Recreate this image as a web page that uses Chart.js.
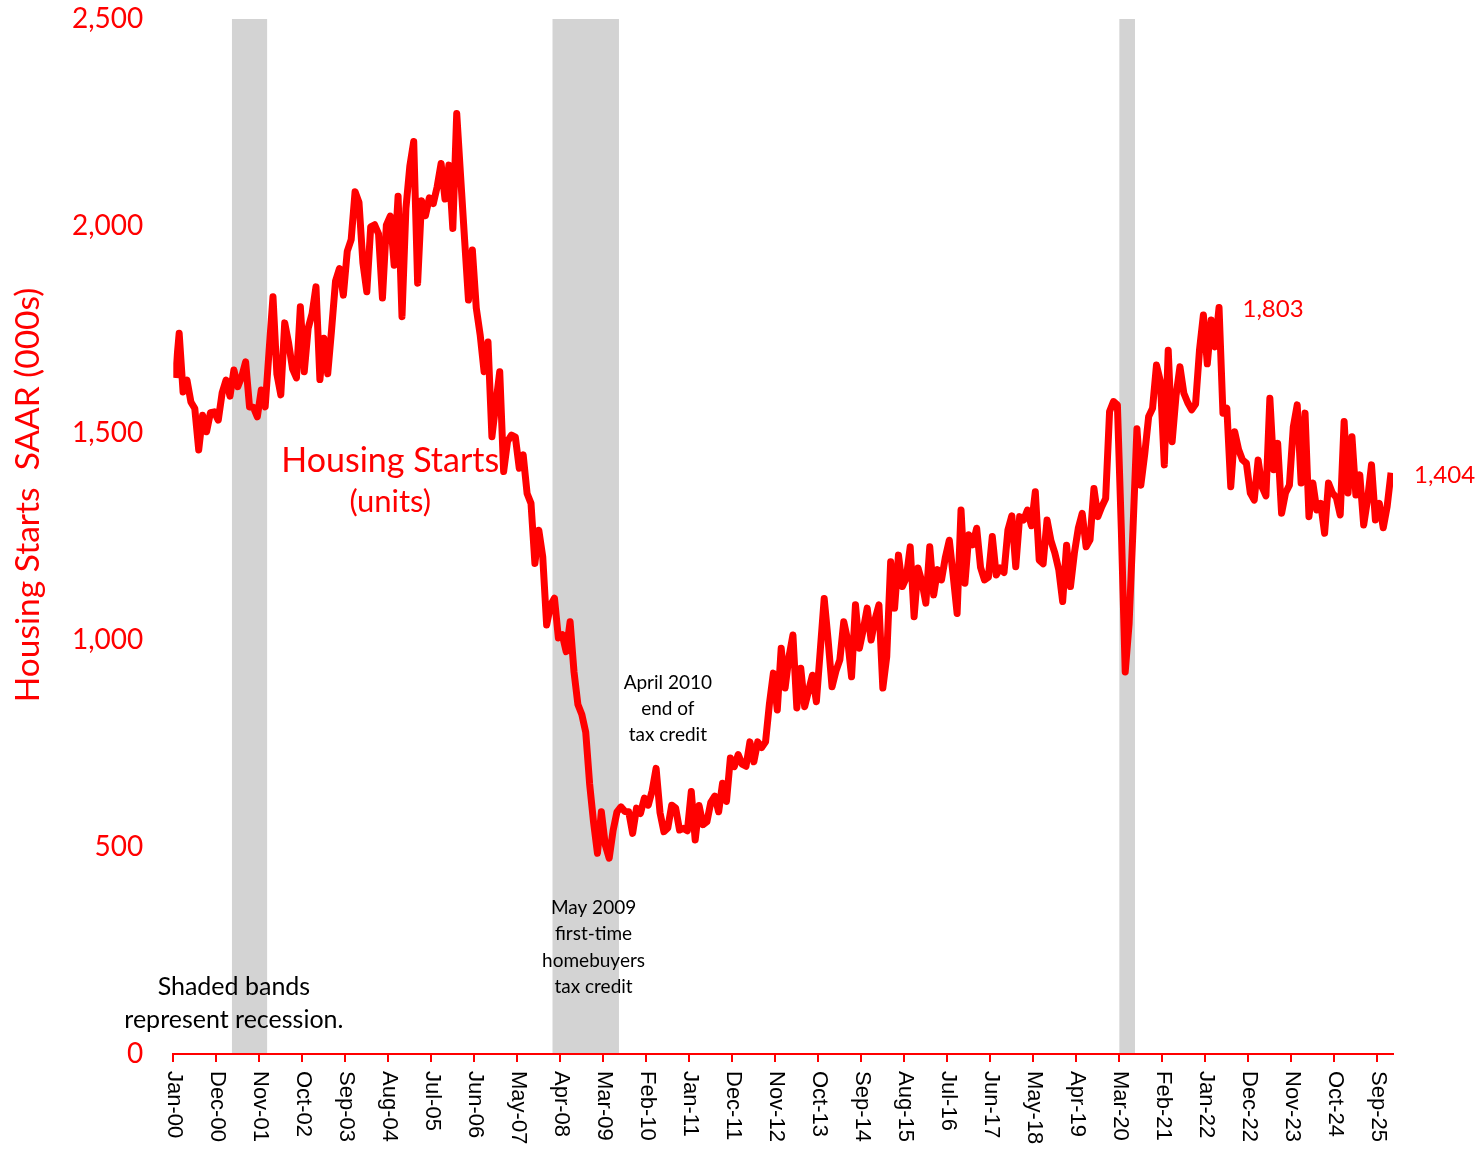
<!DOCTYPE html>
<html>
<head>
<meta charset="utf-8">
<script src="https://cdn.jsdelivr.net/npm/chart.js@4.4.1/dist/chart.umd.min.js"></script>
<style>
  html, body { margin: 0; padding: 0; background: #ffffff; }
  #wrap { width: 1476px; height: 1154px; position: relative; }
</style>
</head>
<body>
<div id="wrap"><canvas id="c" width="1476" height="1154"></canvas></div>
<script>
// ---------------- DATA ----------------
const monthNames = ['Jan','Feb','Mar','Apr','May','Jun','Jul','Aug','Sep','Oct','Nov','Dec'];
const yearCodes = ['00','01','02','03','04','05','06','07','08','09','10','11','12',
                   '13','14','15','16','17','18','19','20','21','22','23','24','25'];
const categories = yearCodes.flatMap(y => monthNames.map(m => m + '-' + y));

// Housing starts, SAAR (000s), Jan-00 .. Dec-25
const housingStarts = [
  1633,1741,1599,1628,1575,1559,1459,1543,1503,1549,1551,1531, // 2000
  1597,1628,1589,1652,1612,1636,1672,1563,1562,1539,1604,1563, // 2001
  1698,1829,1642,1592,1766,1717,1655,1633,1805,1648,1753,1788, // 2002
  1853,1629,1729,1643,1751,1867,1897,1833,1939,1967,2083,2057, // 2003
  1911,1841,1998,2003,1981,1826,2002,2024,1905,2072,1781,2042, // 2004
  2144,2204,1862,2061,2025,2068,2054,2095,2151,2065,2147,1994, // 2005
  2272,2119,1969,1821,1942,1802,1737,1648,1720,1491,1570,1648, // 2006
  1407,1480,1495,1490,1415,1447,1354,1330,1185,1265,1201,1036, // 2007
  1084,1101,1005,1013, 972,1044, 923, 844, 820, 777, 652, 560, // 2008
   485, 585, 505, 473, 540, 585, 597, 586, 585, 533, 594, 581, // 2009
   618, 601, 636, 690, 583, 537, 546, 601, 594, 541, 545, 539, // 2010
   634, 517, 600, 554, 561, 608, 623, 585, 654, 610, 715, 694, // 2011
   723, 700, 695, 754, 706, 754, 740, 754, 847, 920, 831, 980, // 2012
   884, 960,1012, 836, 932, 839, 877, 915, 851, 975,1100,1000, // 2013
   887, 925, 952,1044,1000, 911,1085, 980,1025,1077,1000,1050, // 2014
  1085, 884, 960,1189,1077,1205,1129,1150,1225,1056,1174,1140, // 2015
  1089,1225,1109,1170,1145,1200,1241,1155,1064,1314,1137,1254, // 2016
  1230,1270,1175,1145,1152,1250,1157,1174,1163,1266,1300,1177, // 2017
  1298,1290,1314,1276,1358,1193,1184,1290,1240,1210,1170,1093, // 2018
  1229,1129,1210,1270,1306,1225,1242,1366,1298,1322,1342,1552, // 2019
  1576,1568,1269, 923,1040,1270,1510,1374,1450,1540,1560,1664, // 2020
  1625,1423,1700,1479,1590,1660,1596,1573,1556,1570,1700,1785, // 2021
  1667,1773,1708,1803,1548,1560,1370,1503,1460,1435,1427,1355, // 2022
  1338,1435,1370,1348,1584,1411,1475,1306,1355,1374,1515,1568, // 2023
  1379,1548,1298,1379,1314,1330,1258,1379,1355,1344,1302,1528, // 2024
  1355,1491,1350,1399,1278,1340,1423,1290,1330,1271,1322,1404  // 2025
];

const tickLabels = ['Jan-00','Dec-00','Nov-01','Oct-02','Sep-03','Aug-04','Jul-05','Jun-06',
  'May-07','Apr-08','Mar-09','Feb-10','Jan-11','Dec-11','Nov-12','Oct-13','Sep-14','Aug-15',
  'Jul-16','Jun-17','May-18','Apr-19','Mar-20','Feb-21','Jan-22','Dec-22','Nov-23','Oct-24','Sep-25'];
const yTicks = [0, 500, 1000, 1500, 2000, 2500];

const recessionStart = ['Apr-01', 'Feb-08', 'Mar-20'];
const recessionEnd   = ['Dec-01', 'Jun-09', 'Jun-20'];

// ---------------- STYLE ----------------
const RED = '#ff0000';
const SANS = 'Lato, "Open Sans", "Noto Sans", sans-serif';
const ARIAL = '"Liberation Sans", Arial, sans-serif';

// text annotations anchored in data coordinates (category, value)
const notes = [
  { lines: ['Housing Starts'], cat: 'Aug-04', val: 1432, size: 34, color: RED, align: 'center', lh: 0 },
  { lines: ['(units)'], cat: 'Aug-04', val: 1333, size: 31, color: RED, align: 'center', lh: 0 },
  { lines: ['1,803'], cat: 'Oct-22', val: 1800, size: 24, color: RED, align: 'left', lh: 0 },
  { lines: ['April 2010', 'end of', 'tax credit'], cat: 'Jul-10', val: 896, size: 19, color: '#000', align: 'center', lh: 26 },
  { lines: ['May 2009', 'first-time', 'homebuyers', 'tax credit'], cat: 'Dec-08', val: 353, size: 19, color: '#000', align: 'center', lh: 26.3 },
  { lines: ['Shaded bands', 'represent recession.'], cat: 'Apr-01', val: 162, size: 25, color: '#000', align: 'center', lh: 33 }
];

const bandsPlugin = {
  id: 'bands',
  beforeDatasetsDraw(chart) {
    const { ctx, chartArea: a, scales: { x } } = chart;
    ctx.save();
    ctx.fillStyle = '#d3d3d3';
    recessionStart.forEach((s, k) => {
      const x0 = x.getPixelForValue(categories.indexOf(s) - 0.5);
      const x1 = x.getPixelForValue(categories.indexOf(recessionEnd[k]) + 0.5);
      ctx.fillRect(x0, a.top, x1 - x0, a.bottom - a.top - 1);
    });
    ctx.restore();
  }
};

const textPlugin = {
  id: 'texts',
  afterDraw(chart) {
    const { ctx, chartArea: a, scales: { x, y } } = chart;
    ctx.save();
    // x tick labels, rotated clockwise
    ctx.fillStyle = '#000';
    ctx.font = '22px ' + ARIAL;
    ctx.textAlign = 'left';
    ctx.textBaseline = 'middle';
    x.ticks.forEach((t, k) => {
      const px = x.getPixelForValue(t.value);
      ctx.save();
      ctx.translate(px + 1, a.bottom + 17);
      ctx.rotate(Math.PI / 2);
      ctx.fillText(tickLabels[k], 0, 0);
      ctx.restore();
    });
    // y axis title
    ctx.save();
    ctx.fillStyle = RED;
    ctx.font = '33.5px ' + SANS;
    ctx.textAlign = 'center';
    ctx.translate(28, 495);
    ctx.rotate(-Math.PI / 2);
    ctx.fillText('Housing Starts  SAAR (000s)', 0, 0);
    ctx.restore();
    // annotations
    notes.forEach(n => {
      ctx.fillStyle = n.color;
      ctx.font = n.size + 'px ' + SANS;
      ctx.textAlign = n.align;
      const px = x.getPixelForValue(categories.indexOf(n.cat));
      const py = y.getPixelForValue(n.val);
      n.lines.forEach((l, i) => ctx.fillText(l, px, py + i * n.lh));
    });
    // last value label, right of the plot
    const last = housingStarts.length - 1;
    ctx.fillStyle = RED;
    ctx.font = '24px ' + SANS;
    ctx.textAlign = 'left';
    ctx.fillText(housingStarts[last].toLocaleString('en-US'), a.right + 21, y.getPixelForValue(housingStarts[last]) + 3);
    ctx.restore();
  }
};

new Chart(document.getElementById('c'), {
  type: 'line',
  data: {
    datasets: [{
      label: 'Housing Starts (units)',
      data: housingStarts.map((v, i) => ({ x: i, y: v })),
      borderColor: RED,
      borderWidth: 7,
      pointRadius: 0,
      tension: 0,
      borderJoinStyle: 'round',
      fill: false
    }]
  },
  options: {
    responsive: false,
    animation: false,
    layout: { padding: { top: 19, right: 83, bottom: 0, left: 0 } },
    plugins: { legend: { display: false }, tooltip: { enabled: false } },
    scales: {
      x: {
        type: 'linear',
        min: -0.5,
        max: categories.length - 0.5,
        afterBuildTicks: s => { s.ticks = tickLabels.map(l => ({ value: categories.indexOf(l) - 0.5 })); },
        ticks: { display: false },
        grid: { display: true, drawOnChartArea: false, drawTicks: true, tickLength: 8, color: RED, lineWidth: 2 },
        border: { display: true, color: RED, width: 2 },
        afterFit: s => { s.height = 100; s.paddingLeft = 0; s.paddingRight = 0; }
      },
      y: {
        min: 0,
        max: 2500,
        afterBuildTicks: s => { s.ticks = yTicks.map(v => ({ value: v })); },
        ticks: { color: RED, font: { family: SANS, size: 28 }, padding: 30,
                 callback: v => Number(v).toLocaleString('en-US') },
        grid: { display: false, drawTicks: false },
        border: { display: false },
        afterFit: s => { s.width = 173.3; s.paddingTop = 0; s.paddingBottom = 0; }
      }
    }
  },
  plugins: [bandsPlugin, textPlugin]
});
</script>
</body>
</html>
